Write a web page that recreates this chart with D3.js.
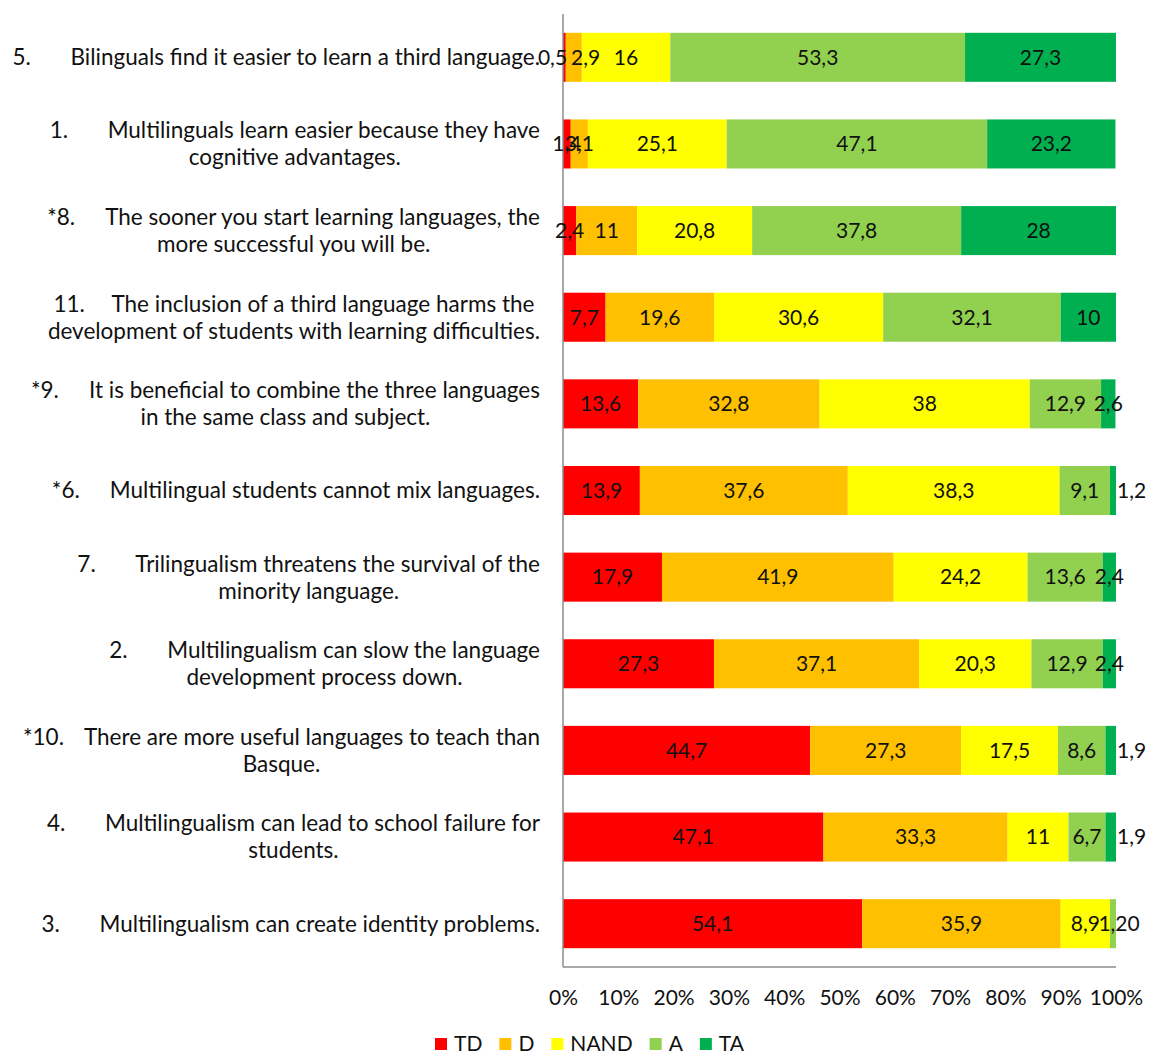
<!DOCTYPE html>
<html>
<head>
<meta charset="utf-8">
<script src="https://cdn.jsdelivr.net/npm/d3@7"></script>
<style>
  html, body { margin: 0; padding: 0; background: #fff; }
  svg { display: block; font-family: Lato, "Noto Sans", sans-serif; }
</style>
</head>
<body>
<svg id="chart" width="1149" height="1054"></svg>
<script>
// Statements, top to bottom: item number and wrapped text lines
const itemNumbers = ["5.", "1.", "*8.", "11.", "*9.", "*6.", "7.", "2.", "*10.", "4.", "3."];
const itemLines = [
  ["Bilinguals find it easier to learn a third language."],
  ["Multilinguals learn easier because they have", "cognitive advantages."],
  ["The sooner you start learning languages, the", "more successful you will be."],
  ["The inclusion of a third language harms the", "development of students with learning difficulties."],
  ["It is beneficial to combine the three languages", "in the same class and subject."],
  ["Multilingual students cannot mix languages."],
  ["Trilingualism threatens the survival of the", "minority language."],
  ["Multilingualism can slow the language", "development process down."],
  ["There are more useful languages to teach than", "Basque."],
  ["Multilingualism can lead to school failure for", "students."],
  ["Multilingualism can create identity problems."]
];

// Response categories
const seriesKeys = ["TD", "D", "NAND", "A", "TA"];
const seriesColors = ["#FF0000", "#FFC000", "#FFFF00", "#92D050", "#00B050"];

// Percentages per response, one value per statement (same order as above)
const valuesTD   = [0.5, 1.4, 2.4, 7.7, 13.6, 13.9, 17.9, 27.3, 44.7, 47.1, 54.1];
const valuesD    = [2.9, 3.1, 11, 19.6, 32.8, 37.6, 41.9, 37.1, 27.3, 33.3, 35.9];
const valuesNAND = [16, 25.1, 20.8, 30.6, 38, 38.3, 24.2, 20.3, 17.5, 11, 8.9];
const valuesA    = [53.3, 47.1, 37.8, 32.1, 12.9, 9.1, 13.6, 12.9, 8.6, 6.7, 1.2];
const valuesTA   = [27.3, 23.2, 28, 10, 2.6, 1.2, 2.4, 2.4, 1.9, 1.9, 0];

const xTicks = [0, 10, 20, 30, 40, 50, 60, 70, 80, 90, 100];

const seriesValues = [valuesTD, valuesD, valuesNAND, valuesA, valuesTA];
const rows = itemNumbers.map((n, i) => {
  const r = { id: i };
  seriesKeys.forEach((k, j) => { r[k] = seriesValues[j][i]; });
  return r;
});

const svg = d3.select("#chart");
const margin = { left: 563, right: 33, top: 14, bottom: 87 };
const W = 1149, H = 1054;
const catFont = 22.5;
const valueFont = 21;
const tickFont = 21;
const labelColor = "#111";

const x = d3.scaleLinear().domain([0, 100]).range([margin.left, W - margin.right]);
const y = d3.scaleBand().domain(rows.map(r => r.id))
  .range([margin.top, H - margin.bottom])
  .paddingInner(0.434).paddingOuter(0.217);

// Stack each row so the segments run left to right in category order
const stacked = d3.stack().keys(seriesKeys)(rows);

const layers = svg.append("g").selectAll("g.layer")
  .data(stacked).join("g")
  .attr("class", "layer")
  .attr("fill", (d, i) => seriesColors[i]);

layers.selectAll("rect")
  .data(d => d)
  .join("rect")
  .attr("x", d => x(d[0]))
  .attr("width", d => Math.max(0, x(Math.min(d[1], 100)) - x(d[0])))
  .attr("y", d => y(d.data.id))
  .attr("height", y.bandwidth());

// Axes: vertical category axis line and horizontal percentage axis
svg.append("line")
  .attr("x1", x(0)).attr("x2", x(0))
  .attr("y1", margin.top).attr("y2", H - margin.bottom)
  .attr("stroke", "#8c8c8c").attr("stroke-width", 1.5);
svg.append("line")
  .attr("x1", x(0)).attr("x2", x(100))
  .attr("y1", H - margin.bottom).attr("y2", H - margin.bottom)
  .attr("stroke", "#8c8c8c").attr("stroke-width", 1.5);

const xAxis = d3.axisBottom(x).tickValues(xTicks).tickFormat(d => d + "%").tickSize(0).tickPadding(0);
const xg = svg.append("g")
  .attr("transform", `translate(0, ${H - 56})`)
  .call(xAxis);
xg.select(".domain").remove();
xg.selectAll("text")
  .attr("dy", "0.35em")
  .attr("font-family", "Lato, 'Noto Sans', sans-serif")
  .attr("font-size", tickFont)
  .attr("fill", labelColor);

// Value labels inside each segment
const fmt = v => String(v).replace(".", ",");
const labelG = svg.append("g")
  .attr("font-size", valueFont)
  .attr("fill", labelColor);

rows.forEach((r, i) => {
  const cy = y(r.id) + y.bandwidth() / 2;
  const placed = [];
  let acc = 0;
  seriesKeys.forEach((k, j) => {
    const v = r[k];
    const x0 = x(acc), x1 = x(Math.min(acc + v, 100));
    acc += v;
    const t = labelG.append("text")
      .attr("y", cy)
      .attr("dy", "0.35em")
      .text(fmt(v));
    const w = t.node().getComputedTextLength();
    const prev = placed[placed.length - 1];
    let left;
    if (j === seriesKeys.length - 1 && v < 2) {
      // thin closing segment: label sits just past the bar end
      left = Math.max(x(100) + 1, prev ? prev.left + prev.w : -Infinity);
    } else {
      left = (x0 + x1) / 2 - w / 2;
      // heavily overlapping neighbours are pushed apart evenly
      if (prev) {
        const overlap = prev.left + prev.w - left;
        if (overlap > 0.6 * w) {
          const shift = overlap / 2 + 2;
          prev.left -= shift;
          prev.node.attr("x", prev.left);
          left += shift;
        }
      }
    }
    t.attr("x", left);
    placed.push({ node: t, left, w });
  });
});

// Category labels: number, tab gap, then text; lines centred on one another, block right-aligned
const labelRight = 540;
const tabGap = 58;
const catG = svg.append("g").attr("font-size", catFont).attr("fill", labelColor);
const lineH = 27;
rows.forEach((r, i) => {
  const lines = itemLines[i];
  const cy = y(r.id) + y.bandwidth() / 2;
  const tmp = catG.append("text").text(itemNumbers[i]);
  const numW = tmp.node().getComputedTextLength();
  tmp.remove();
  const widths = lines.map(s => {
    const t = catG.append("text").text(s);
    const w = t.node().getComputedTextLength();
    t.remove();
    return w;
  });
  const gap = Math.max(tabGap, numW + 20);
  const firstW = gap + widths[0];
  const lineWs = [firstW].concat(widths.slice(1));
  const blockW = d3.max(lineWs);
  const centre = labelRight - blockW / 2;
  const top = cy - (lines.length - 1) * lineH / 2;
  lines.forEach((s, li) => {
    const ly = top + li * lineH;
    if (li === 0) {
      const start = centre - firstW / 2;
      catG.append("text").attr("x", start).attr("y", ly).attr("dy", "0.35em").text(itemNumbers[i]);
      catG.append("text").attr("x", start + gap).attr("y", ly).attr("dy", "0.35em").text(s);
    } else {
      catG.append("text").attr("x", centre).attr("y", ly).attr("dy", "0.35em")
        .attr("text-anchor", "middle").text(s);
    }
  });
});

// Legend
const legendItems = seriesKeys.map((k, i) => ({ key: k, color: seriesColors[i] }));
const legend = svg.append("g").attr("transform", `translate(435, ${H - 10})`);
let lx = 0;
legendItems.forEach(d => {
  legend.append("rect").attr("x", lx).attr("y", -6).attr("width", 12).attr("height", 12).attr("fill", d.color);
  const t = legend.append("text").attr("x", lx + 19).attr("y", 0).attr("dy", "0.35em")
    .attr("font-size", tickFont).attr("fill", labelColor).text(d.key);
  lx += 19 + t.node().getComputedTextLength() + 17;
});
</script>
</body>
</html>
